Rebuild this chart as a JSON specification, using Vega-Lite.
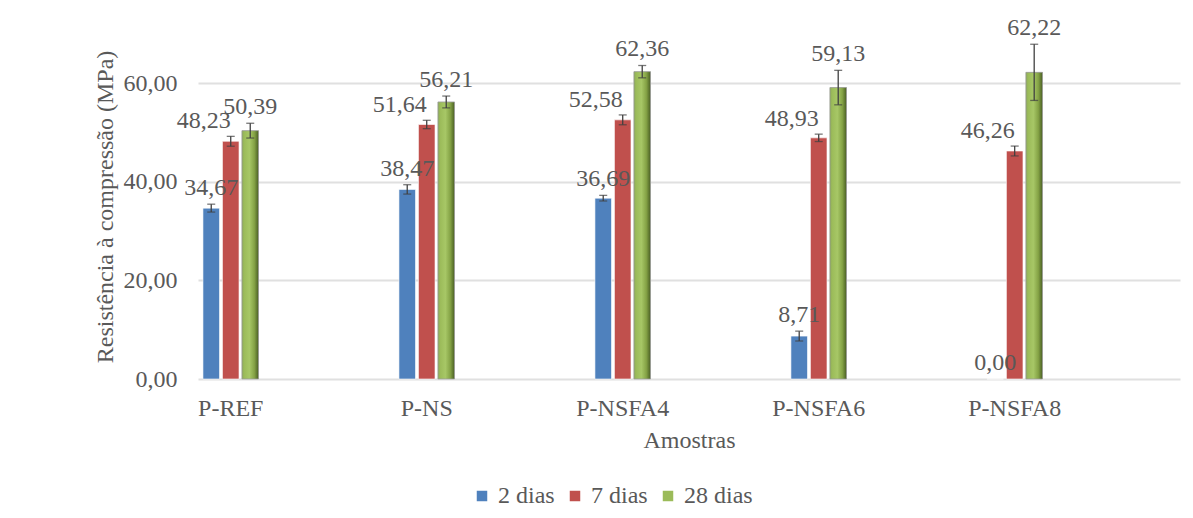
{
  "$schema": "https://vega.github.io/schema/vega-lite/v6.json",
  "autosize": {"type": "none"},
  "padding": {"left": 198, "top": 34, "right": 13, "bottom": 139},
  "width": 982,
  "height": 345,
  "background": "#ffffff",
  "config": {
    "locale": {"number": {"decimal": ",", "thousands": ".", "grouping": [3], "currency": ["", " €"]}},
    "view": {"stroke": null},
    "font": "Liberation Serif",
    "text": {"font": "Liberation Serif"},
    "axis": {"labelFont": "Liberation Serif", "titleFont": "Liberation Serif", "labelColor": "#595959", "titleColor": "#595959", "labelFontSize": 24, "titleFontSize": 24, "titleFontWeight": "normal"},
    "legend": {"labelFont": "Liberation Serif", "labelColor": "#595959", "labelFontSize": 24}
  },
  "data": {
    "values": [
      {"amostra": "P-REF", "idade": "2 dias", "valor": 34.67, "lo": 33.87, "hi": 35.47},
      {"amostra": "P-REF", "idade": "7 dias", "valor": 48.23, "lo": 47.23, "hi": 49.23},
      {"amostra": "P-REF", "idade": "28 dias", "valor": 50.39, "lo": 48.89, "hi": 51.89},
      {"amostra": "P-NS", "idade": "2 dias", "valor": 38.47, "lo": 37.52, "hi": 39.42},
      {"amostra": "P-NS", "idade": "7 dias", "valor": 51.64, "lo": 50.79, "hi": 52.49},
      {"amostra": "P-NS", "idade": "28 dias", "valor": 56.21, "lo": 55.01, "hi": 57.41},
      {"amostra": "P-NSFA4", "idade": "2 dias", "valor": 36.69, "lo": 36.12, "hi": 37.26},
      {"amostra": "P-NSFA4", "idade": "7 dias", "valor": 52.58, "lo": 51.58, "hi": 53.58},
      {"amostra": "P-NSFA4", "idade": "28 dias", "valor": 62.36, "lo": 61.11, "hi": 63.61},
      {"amostra": "P-NSFA6", "idade": "2 dias", "valor": 8.71, "lo": 7.71, "hi": 9.71},
      {"amostra": "P-NSFA6", "idade": "7 dias", "valor": 48.93, "lo": 48.18, "hi": 49.68},
      {"amostra": "P-NSFA6", "idade": "28 dias", "valor": 59.13, "lo": 55.63, "hi": 62.63},
      {"amostra": "P-NSFA8", "idade": "2 dias", "valor": 0.0, "lo": 0.0, "hi": 0.0},
      {"amostra": "P-NSFA8", "idade": "7 dias", "valor": 46.26, "lo": 45.26, "hi": 47.26},
      {"amostra": "P-NSFA8", "idade": "28 dias", "valor": 62.22, "lo": 56.52, "hi": 67.92}
    ]
  },
  "encoding": {
    "x": {
      "field": "amostra", "type": "nominal",
      "sort": ["P-REF", "P-NS", "P-NSFA4", "P-NSFA6", "P-NSFA8"],
      "scale": {"paddingInner": 0.7015, "paddingOuter": 0.356, "align": 0.025},
      "axis": {"title": "Amostras", "labelAngle": 0, "domain": false, "ticks": false, "labelPadding": 17, "titlePadding": 8}
    },
    "xOffset": {
      "field": "idade", "type": "nominal",
      "scale": {"domain": ["2 dias", "7 dias", "28 dias"], "paddingInner": 0.15, "paddingOuter": 0.075}
    }
  },
  "layer": [
    {
      "mark": {"type": "bar", "stroke": "#ffffff", "strokeOpacity": 0.6, "strokeWidth": 1},
      "encoding": {
        "y": {
          "field": "valor", "type": "quantitative",
          "scale": {"domain": [0, 70], "nice": false},
          "axis": {"title": "Resistência à compressão (MPa)", "values": [0, 20, 40, 60], "format": ".2f", "domain": false, "ticks": false, "labelPadding": 21, "titlePadding": 6, "gridColor": "#e0e0e0", "gridWidth": 2}
        },
        "color": {
          "field": "idade", "type": "nominal",
          "scale": {"domain": ["2 dias", "7 dias", "28 dias"], "range": ["#4F81BD", "#C0504D", "#9BBB59"]},
          "legend": {"title": null, "orient": "none", "legendX": 272, "legendY": 450, "direction": "horizontal", "symbolType": "square", "symbolSize": 110, "symbolStrokeWidth": 0, "columnPadding": 8, "labelOffset": 4, "labelFont": "Liberation Serif", "labelFontSize": 24, "labelColor": "#595959"}
        }
      }
    },
    {
      "transform": [{"filter": "datum.idade == '28 dias'"}],
      "mark": {
        "type": "bar",
        "color": {"gradient": "linear", "x1": 0, "x2": 1, "y1": 0, "y2": 0,
          "stops": [
            {"offset": 0, "color": "#8aa65a"},
            {"offset": 0.12, "color": "#9BBB59"},
            {"offset": 0.45, "color": "#a7c766"},
            {"offset": 0.75, "color": "#84a245"},
            {"offset": 1, "color": "#4a5f24"}
          ]},
        "stroke": "#9a9a9a", "strokeWidth": 0.8
      },
      "encoding": {"y": {"field": "valor", "type": "quantitative"}}
    },
    {
      "transform": [{"filter": "datum.hi > datum.valor"}],
      "mark": {"type": "rule", "color": "#404040", "strokeWidth": 1.3},
      "encoding": {"y": {"field": "lo", "type": "quantitative"}, "y2": {"field": "hi"}}
    },
    {
      "transform": [{"filter": "datum.hi > datum.valor"}],
      "mark": {"type": "tick", "color": "#404040", "thickness": 1.3, "size": 8},
      "encoding": {"y": {"field": "hi", "type": "quantitative"}}
    },
    {
      "transform": [{"filter": "datum.hi > datum.valor"}],
      "mark": {"type": "tick", "color": "#404040", "thickness": 1.3, "size": 8},
      "encoding": {"y": {"field": "lo", "type": "quantitative"}}
    },
    {
      "transform": [{"filter": "datum.idade == '2 dias'"}],
      "mark": {"type": "text", "align": "center", "baseline": "bottom", "dy": -4, "fontSize": 24, "color": "#595959", "font": "Liberation Serif"},
      "encoding": {"y": {"field": "hi", "type": "quantitative"}, "text": {"field": "valor", "type": "quantitative", "format": ".2f"}}
    },
    {
      "transform": [{"filter": "datum.idade == '7 dias'"}],
      "mark": {"type": "text", "align": "right", "baseline": "bottom", "dy": -3, "dx": 0, "fontSize": 24, "color": "#595959", "font": "Liberation Serif"},
      "encoding": {"y": {"field": "hi", "type": "quantitative"}, "text": {"field": "valor", "type": "quantitative", "format": ".2f"}}
    },
    {
      "transform": [{"filter": "datum.idade == '28 dias'"}],
      "mark": {"type": "text", "align": "center", "baseline": "bottom", "dy": -4, "fontSize": 24, "color": "#595959", "font": "Liberation Serif"},
      "encoding": {"y": {"field": "hi", "type": "quantitative"}, "text": {"field": "valor", "type": "quantitative", "format": ".2f"}}
    }
  ]
}
